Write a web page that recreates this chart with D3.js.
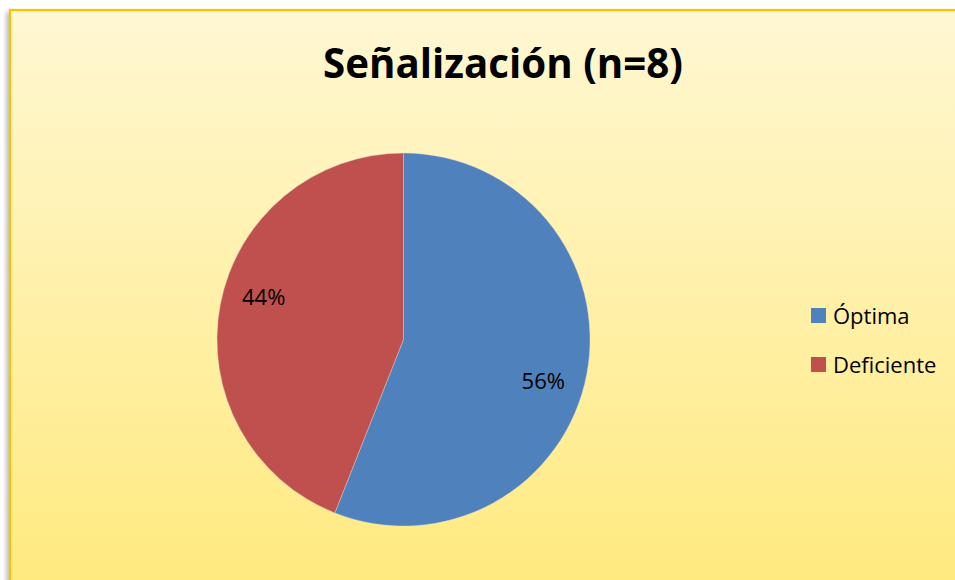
<!DOCTYPE html>
<html>
<head>
<meta charset="utf-8">
<script src="https://cdn.jsdelivr.net/npm/d3@7"></script>
<style>
html,body{margin:0;padding:0;background:#fff;overflow:hidden;width:955px;height:580px;}
svg{display:block;position:absolute;left:0;top:0;}
</style>
</head>
<body>
<svg id="chart" width="1000" height="620"></svg>
<script>
const categories = ["Óptima", "Deficiente"];
const values = [56, 44];
const labels = ["56%", "44%"];
const colors = ["#4F81BD", "#C0504D"];
const title = "Señalización (n=8)";

const svg = d3.select("#chart");
const defs = svg.append("defs");
const grad = defs.append("linearGradient").attr("id","bg").attr("gradientUnits","userSpaceOnUse")
  .attr("x1",0).attr("y1",10).attr("x2",0).attr("y2",580);
grad.append("stop").attr("offset","0%").attr("stop-color","#FFF7D3");
grad.append("stop").attr("offset","100%").attr("stop-color","#FFEA80");
const blur = defs.append("filter").attr("id","blur").attr("x","-50%").attr("y","-10%").attr("width","200%").attr("height","120%");
blur.append("feGaussianBlur").attr("stdDeviation",2);

// shadow on the left edge
svg.append("rect").attr("x",6).attr("y",12).attr("width",6).attr("height",620)
  .attr("fill","#000").attr("opacity",0.25).attr("filter","url(#blur)");
svg.append("rect").attr("x",10).attr("y",10).attr("width",1100).attr("height",700)
  .attr("fill","url(#bg)").attr("stroke","#FFC000").attr("stroke-width",2.2);

// Title
const t = svg.append("text").attr("x",503).attr("y",78).attr("text-anchor","middle")
  .attr("font-family","'Open Sans', 'Liberation Sans', sans-serif").attr("font-weight","bold")
  .attr("font-size",44).attr("fill","#000").text(title);
const tw = t.node().getComputedTextLength();
t.attr("font-size", 44 * 360 / tw);

// Pie
const cx = 403.5, cy = 339.5, r = 186.5;
const pie = d3.pie().sort(null).value(d => d)(values);
const arc = d3.arc().innerRadius(0).outerRadius(r);
const g = svg.append("g").attr("transform",`translate(${cx},${cy})`);
g.selectAll("path").data(pie).enter().append("path")
  .attr("d",arc).attr("fill",(d,i)=>colors[i]).attr("stroke","#d9d9d9").attr("stroke-width",0.4);

const lr = r * 0.783, shift = 0.105;
g.selectAll("text.lbl").data(pie).enter().append("text").attr("class","lbl")
  .attr("transform",d=>{
    const a = (d.startAngle + d.endAngle)/2 + shift;
    return `translate(${lr*Math.sin(a)},${-lr*Math.cos(a)})`;
  })
  .attr("text-anchor","middle").attr("dy","0.35em")
  .attr("font-family","'Open Sans', 'Liberation Sans', sans-serif").attr("font-size",22)
  .attr("fill","#000").text((d,i)=>labels[i]);

// Legend
const leg = svg.append("g");
const ly = d3.scalePoint().domain(categories).range([315.5, 364.5]);
categories.forEach((c,i)=>{
  leg.append("rect").attr("x",811).attr("y",ly(c)-7.5).attr("width",15).attr("height",15).attr("fill",colors[i]);
  leg.append("text").attr("x",833).attr("y",ly(c)+8)
    .attr("font-family","'Open Sans', 'Liberation Sans', sans-serif").attr("font-size",22)
    .attr("fill","#000").text(c);
});
</script>
</body>
</html>
